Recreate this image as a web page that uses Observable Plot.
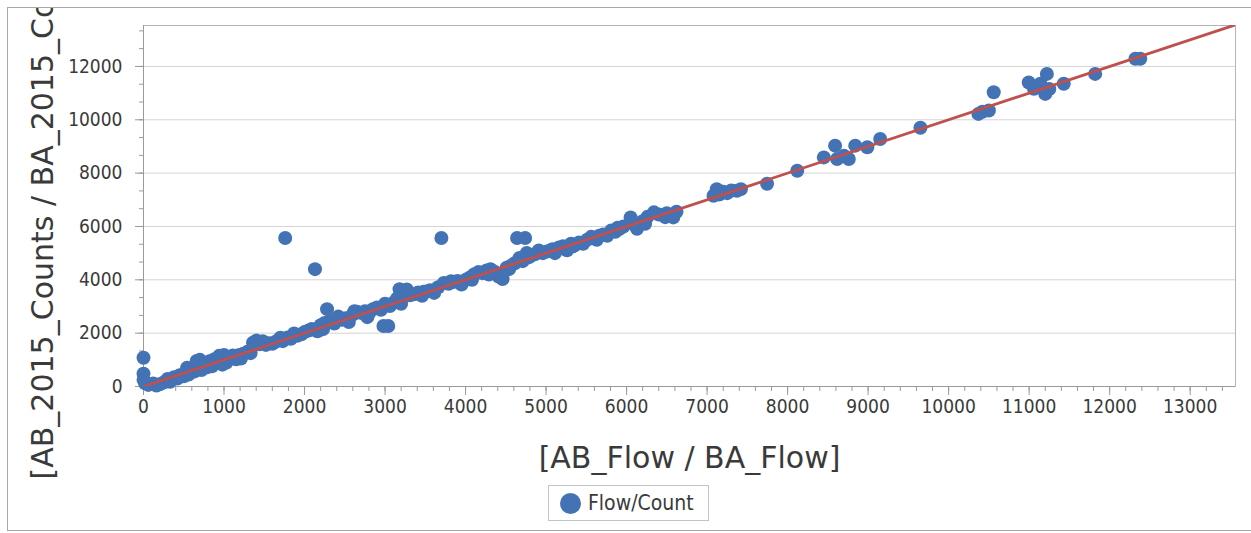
<!DOCTYPE html>
<html>
<head>
<meta charset="utf-8">
<script src="https://cdn.jsdelivr.net/npm/d3@7"></script>
<script src="https://cdn.jsdelivr.net/npm/@observablehq/plot@0.6"></script>
<style>
  html, body { margin: 0; padding: 0; background: #fff; }
  #outer {
    position: absolute; left: 7px; top: 7px; width: 1250px; height: 522px;
    border-left: 1px solid #a8a8a8; border-top: 1px solid #a8a8a8; border-bottom: 1px solid #a8a8a8;
    overflow: hidden; background: #fff;
  }
  #chart { position: absolute; left: 0; top: 0; }
  #legend {
    position: absolute; left: 540px; top: 477px; width: 159px; height: 34px;
    border: 1px solid #c4c4c4; display: flex; align-items: center; box-sizing: content-box;
    font-family: "DejaVu Sans Condensed", "DejaVu Sans", sans-serif; font-size: 21px; color: #3a3a3a;
  }
  #legend .sw { width: 21px; height: 21px; border-radius: 50%; background: #4473b5; margin-left: 11px; margin-right: 7px; }
</style>
</head>
<body>
<div id="outer">
  <div id="chart"></div>
  <div id="legend"><span class="sw"></span><span>Flow/Count</span></div>
</div>
<script>
// Data
const flow = [
  0,0,0,20,60,120,160,200,250,300,330,380,420,450,500,520,560,600,630,660,690,720,760,790,820,850,880,910,940,970,
  1000,1030,1070,1110,1150,1190,1240,1290,1330,1360,1400,1440,1480,1520,1560,1600,1640,1690,1730,1760,1790,1830,1870,1910,1960,
  2000,2050,2090,2130,2160,2200,2250,2280,2320,2370,2420,2460,2510,2550,2600,2650,2700,2750,2800,2850,2900,2950,2980,
  3040,3060,3110,3150,3180,3230,3270,3310,3360,3410,3460,3510,3560,3610,3660,3700,3730,3790,3850,3900,3950,
  4010,4060,4110,4160,4210,4260,4310,4360,4410,4460,4510,4560,4610,4640,4670,4710,4740,4760,4810,4860,4910,4960,
  5010,5060,5110,5160,5210,5260,5310,5360,5410,5460,5510,5560,5610,5660,5710,5760,5810,5860,5910,5960,
  6050,6100,6130,6200,6260,6340,6400,6500,6580,6620,
  7080,7120,7150,7200,7250,7300,7370,7420,7745,8120,8450,8590,8615,8700,8760,8840,8990,9150,9650,
  10370,10420,10500,10560,10995,11060,11140,11200,11220,11250,11430,11820,12320,12380,
  // extra scatter in the dense band
  540,700,980,1210,1380,1700,2230,2440,2620,2780,3000,3200,3480,3820,4080,4290,4540,4790,5080,5330,5630,5890,6230,6480
];
const counts = [
  1080,480,250,120,60,110,40,80,150,280,180,350,300,420,380,520,450,650,560,960,780,620,880,720,950,760,1020,880,1150,980,
  1180,900,1100,1160,1020,1180,1230,1300,1250,1640,1720,1580,1700,1560,1620,1600,1680,1760,1700,5570,1840,1790,1990,1900,1960,
  2040,2100,2160,4400,2070,2300,2380,2900,2460,2360,2620,2500,2560,2420,2700,2800,2760,2820,2740,2900,2960,2880,2270,
  2270,3020,3150,3300,3650,3560,3640,3420,3460,3520,3400,3560,3610,3510,3720,5570,3880,3850,3920,3960,3820,
  4010,4100,4210,4290,4250,4350,4400,4300,4120,4030,4450,4520,4620,5570,4820,4700,5570,5010,4900,4960,5100,5000,
  5060,5110,5000,5210,5260,5110,5350,5300,5400,5350,5500,5610,5560,5650,5700,5650,5850,5800,5900,6000,
  6340,6050,5910,6200,6360,6530,6450,6500,6340,6550,
  7150,7400,7200,7300,7250,7350,7340,7400,7600,8090,8590,9030,8530,8650,8530,9030,8970,9280,9700,
  10220,10300,10350,11030,11400,11160,11350,10970,11720,11150,11350,11720,12290,12290,
  700,1000,820,1050,1600,1830,2150,2520,2820,2600,3100,3100,3550,3950,4000,4200,4400,4850,5150,5250,5500,5950,6100,6350
];
// Fitted 1:1 reference line
const fitFlow = [0, 13600];
const fitCounts = [0, 13600];
// Axis ticks
const xTicks = [0,1000,2000,3000,4000,5000,6000,7000,8000,9000,10000,11000,12000,13000];
const yTicks = [0,2000,4000,6000,8000,10000,12000];
const xDomain = [0, 13563];
const yDomain = [0, 13535];
const xTitle = "[AB_Flow / BA_Flow]";
const yTitle = "[AB_2015_Counts / BA_2015_Counts]";

const points = flow.map((f, i) => ({flow: f, count: counts[i]}));
const fit = fitFlow.map((f, i) => ({flow: f, count: fitCounts[i]}));
const xMinor = d3.range(0, xDomain[1], 200);
const yMinor = d3.range(0, yDomain[1], 2000 / 3);

const tickFont = "'DejaVu Sans Condensed', 'DejaVu Sans', sans-serif";
const textColor = "#3a3a3a";

const chart = Plot.plot({
  width: 1243,
  height: 470,
  marginLeft: 135,
  marginRight: 16,
  marginTop: 17,
  marginBottom: 92,
  style: {background: "transparent", fontFamily: tickFont, fontSize: "19px", color: textColor},
  x: {domain: xDomain, label: null},
  y: {domain: yDomain, label: null},
  marks: [
    Plot.gridY(yTicks, {stroke: "#d4d4d4", strokeOpacity: 1, strokeWidth: 1}),
    Plot.frame({stroke: "#b4b4b4"}),
    Plot.axisX({ticks: xMinor, tickSize: 5, tickFormat: () => "", stroke: "#9a9a9a", label: null}),
    Plot.axisX({ticks: xTicks, tickSize: 9, tickPadding: 4, stroke: "#9a9a9a", fill: textColor,
      fontFamily: tickFont, fontSize: 19, tickFormat: d => String(d), label: null}),
    Plot.axisY({ticks: yMinor, tickSize: 4, tickFormat: () => "", stroke: "#9a9a9a", label: null}),
    Plot.axisY({ticks: yTicks, tickSize: 8, tickPadding: 13, stroke: "#9a9a9a", fill: textColor,
      fontFamily: tickFont, fontSize: 19, tickFormat: d => String(d), label: null}),
    Plot.ruleX([0], {stroke: "#9a9a9a"}),
    Plot.ruleY([0], {stroke: "#9a9a9a"}),
    Plot.dot(points, {x: "flow", y: "count", r: 7, fill: "#4473b5", stroke: null}),
    Plot.line(fit, {x: "flow", y: "count", stroke: "#c0504d", strokeWidth: 2.8, clip: "frame"}),
    Plot.text([xTitle], {text: d => d, frameAnchor: "bottom", dy: 81, lineAnchor: "bottom",
      fontSize: 30, fontFamily: "'DejaVu Sans', sans-serif", fill: textColor}),
    Plot.text([yTitle], {text: d => d, frameAnchor: "left", textAnchor: "middle", dx: -91, dy: -5, rotate: -90,
      lineAnchor: "bottom", fontSize: 30, fontFamily: "'DejaVu Sans', sans-serif", fill: textColor})
  ]
});
document.getElementById("chart").appendChild(chart);
</script>
</body>
</html>
